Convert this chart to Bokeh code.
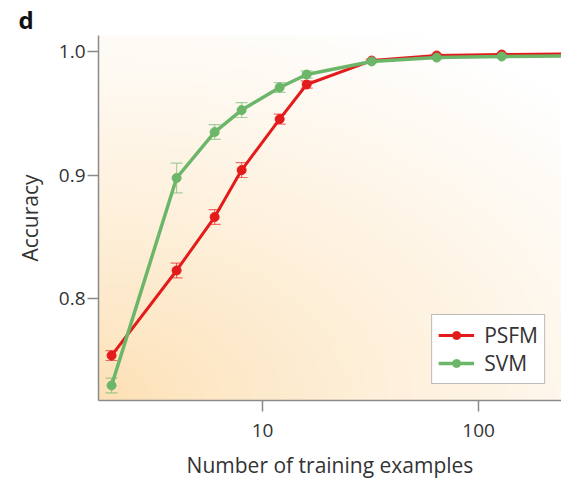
import numpy as np
from bokeh.plotting import figure
from bokeh.models import (Range1d, FixedTicker, ColumnDataSource, Whisker, TeeHead,
                          PrintfTickFormatter)
from bokeh.embed import file_html
from bokeh.resources import INLINE

n_examples = [2, 4, 6, 8, 12, 16, 32, 64, 128, 256]
psfm_acc = [0.7538, 0.8227, 0.8660, 0.9040, 0.9453, 0.9733, 0.9927, 0.9968, 0.9976, 0.9980]
psfm_err = [0.004, 0.006, 0.006, 0.006, 0.004, 0.003, 0.001, 0.001, 0.001, 0.001]
svm_acc = [0.7296, 0.8976, 0.9348, 0.9526, 0.9709, 0.9814, 0.9920, 0.9951, 0.9960, 0.9965]
svm_err = [0.006, 0.012, 0.006, 0.006, 0.004, 0.003, 0.001, 0.001, 0.001, 0.001]
x_ticks = [10, 100]
y_ticks = [0.8, 0.9, 1.0]

FONT = "Open Sans"
RED = "#e31b1b"
GREEN = "#6cb66a"

x0, x1 = 1.74, 242.0
y0, y1 = 0.7174, 1.013

p = figure(frame_width=463, frame_height=365, x_axis_type="log",
           x_range=Range1d(x0, x1), y_range=Range1d(y0, y1),
           output_backend="svg", toolbar_location=None,
           min_border_left=98, min_border_right=0, min_border_top=0, min_border_bottom=0)

# gradient background
ny, nx = 120, 160
yy, xx = np.mgrid[0:ny, 0:nx]
u = xx / (nx - 1)
v = yy / (ny - 1)  # row 0 = bottom
d = np.sqrt((u * 0.8) ** 2 + (v * 1.0) ** 2)
t = np.clip(d / 1.15, 0, 1) ** 0.8
c0 = np.array([253, 224, 180], dtype=float)
c1 = np.array([255, 255, 255], dtype=float)
img = np.zeros((ny, nx), dtype=np.uint32)
view = img.view(dtype=np.uint8).reshape((ny, nx, 4))
for k in range(3):
    view[:, :, k] = (c0[k] + (c1[k] - c0[k]) * t).astype(np.uint8)
view[:, :, 3] = 255
p.image_rgba(image=[img], x=x0, y=y0, dw=x1 - x0, dh=y1 - y0, level="image")

p.background_fill_color = "white"
p.border_fill_color = "white"
p.outline_line_color = None
p.grid.visible = False

for acc, err, col, lab, lw in [(psfm_acc, psfm_err, RED, "PSFM", 3), (svm_acc, svm_err, GREEN, "SVM", 3.5)]:
    src = ColumnDataSource(dict(x=n_examples, y=acc,
                                lo=[a - e for a, e in zip(acc, err)],
                                hi=[a + e for a, e in zip(acc, err)]))
    w = Whisker(source=src, base="x", upper="hi", lower="lo", level="underlay",
                line_color=col, line_alpha=0.6, line_width=1.2,
                upper_head=TeeHead(size=12, line_color=col, line_alpha=0.6, line_width=1.2),
                lower_head=TeeHead(size=12, line_color=col, line_alpha=0.6, line_width=1.2))
    p.add_layout(w)
    p.line("x", "y", source=src, line_color=col, line_width=lw, legend_label=lab)
    p.scatter("x", "y", source=src, size=9, fill_color=col, line_color=col, legend_label=lab)

p.xaxis.ticker = FixedTicker(ticks=x_ticks)
p.yaxis.ticker = FixedTicker(ticks=y_ticks)
p.xaxis.formatter = PrintfTickFormatter(format="%d")
p.yaxis.formatter = PrintfTickFormatter(format="%.1f")
for ax in (p.xaxis, p.yaxis):
    ax.axis_line_color = "#8a8a8a"
    ax.axis_line_width = 1.5
    ax.major_tick_line_color = "#8a8a8a"
    ax.major_tick_line_width = 1.5
    ax.major_tick_out = 11
    ax.major_tick_in = 0
    ax.minor_tick_line_color = None
    ax.major_label_text_font = FONT
    ax.major_label_text_font_size = "19px"
    ax.major_label_text_color = "#333333"
    ax.axis_label_text_font = FONT
    ax.axis_label_text_font_size = "21px"
    ax.axis_label_text_font_style = "normal"
    ax.axis_label_text_color = "#333333"
p.xaxis.axis_label = "Number of training examples"
p.yaxis.axis_label = "Accuracy"
p.xaxis.major_label_standoff = 12
p.xaxis.axis_label_standoff = 11
p.yaxis.major_label_standoff = 2
p.yaxis.axis_label_standoff = 12

p.title.text = "d"
p.title.text_font = FONT
p.title.text_font_size = "24px"
p.title.text_font_style = "bold"
p.title.align = "left"
p.title.offset = -80
p.title.standoff = 0
p.title.text_color = "#111111"

lg = p.legend[0]
lg.location = "bottom_right"
lg.margin = 17
lg.border_line_color = "#777777"
lg.border_line_width = 1.2
lg.background_fill_color = "white"
lg.background_fill_alpha = 1
lg.label_text_font = FONT
lg.label_text_font_size = "21px"
lg.label_text_color = "#333333"
lg.glyph_width = 36
lg.label_standoff = 10
lg.spacing = 0
lg.padding = 6
lg.margin = 16

open("out.html", "w").write(file_html(p, INLINE))
